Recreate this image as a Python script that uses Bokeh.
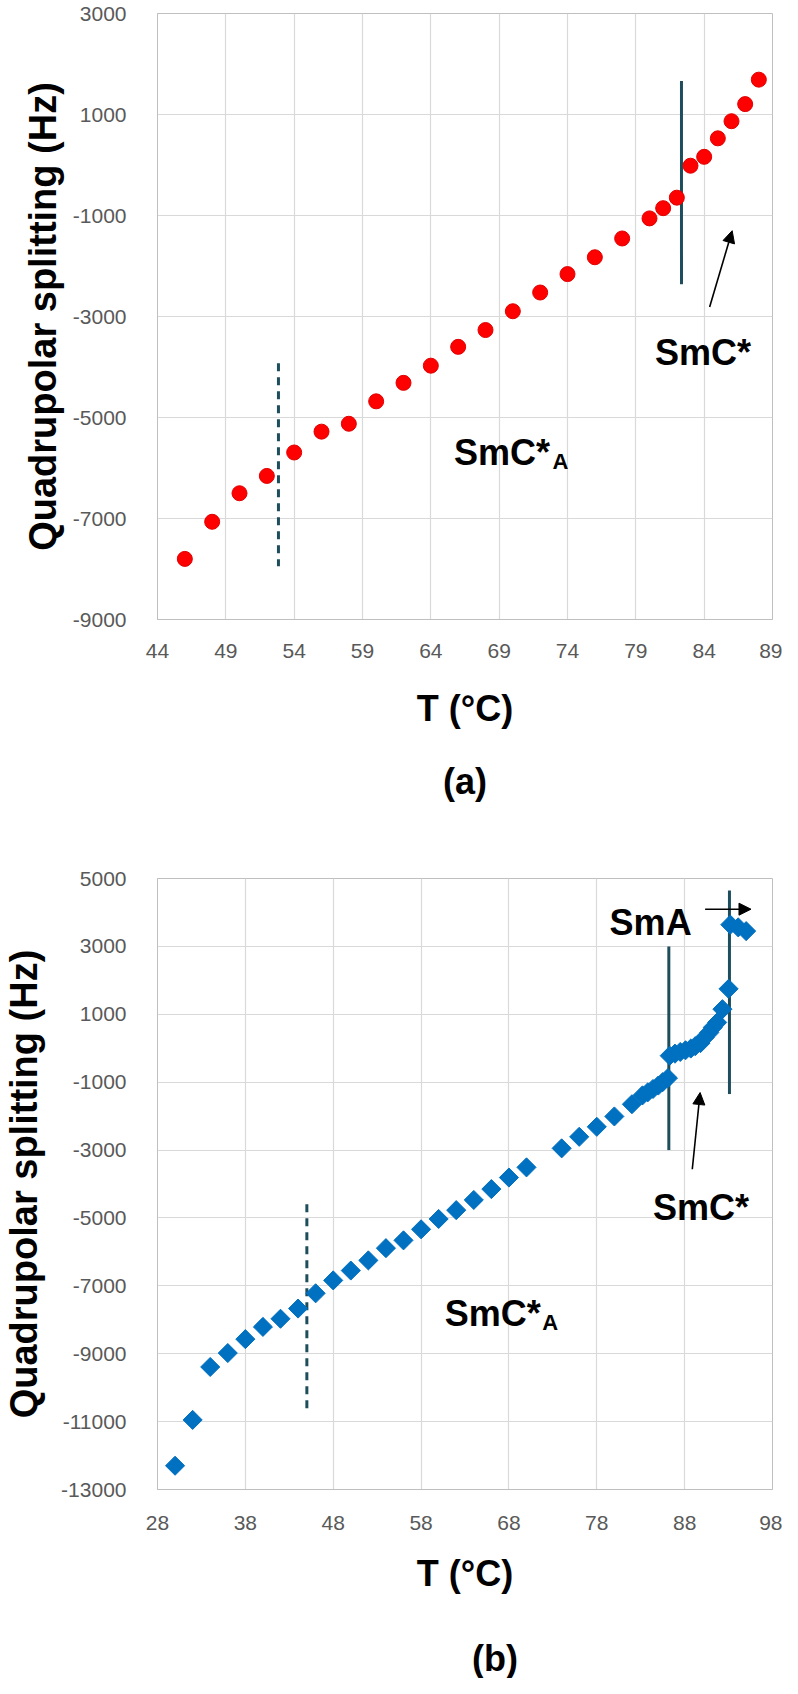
import numpy as np
from bokeh.plotting import figure
from bokeh.models import FixedTicker, Title, Arrow, NormalHead
from bokeh.layouts import column
from bokeh.core.properties import value
from bokeh.embed import file_html
from bokeh.resources import INLINE

# ---------------- data (a) ----------------
T_a = [46, 48, 50, 52, 54, 56, 58, 60, 62, 64, 66, 68, 70, 72, 74, 76, 78, 80,
       81, 82, 83, 84, 85, 86, 87, 88]
Q_a = [-7800, -7065, -6500, -6157, -5693, -5280, -5124, -4680, -4314, -3974,
       -3601, -3268, -2896, -2525, -2160, -1827, -1455, -1057,
       -855, -647, -14, 162, 528, 867, 1206, 1690]
xticks_a = [44, 49, 54, 59, 64, 69, 74, 79, 84, 89]
yticks_a = [-9000, -7000, -5000, -3000, -1000, 1000, 3000]

# ---------------- data (b) ----------------
T_b = [30, 32, 34, 36, 38, 40, 42, 44, 46, 48, 50, 52, 54, 56, 58, 60, 62, 64,
       66, 68, 70, 74, 76, 78, 80, 82,
       83.2, 83.8, 84.4, 85.0, 85.5, 86.1,
       86.3, 86.9, 87.5, 88.1, 88.7, 89.2, 89.8, 90.3, 90.8, 91.2, 91.7, 92.3,
       93.0, 93.2, 94.1, 95.0]
Q_b = [-12300, -10950, -9390, -8980, -8570, -8210, -7970, -7670, -7220, -6840,
       -6550, -6250, -5890, -5660, -5335, -5030, -4770, -4470, -4150, -3810,
       -3510, -2950, -2610, -2315, -2010, -1650,
       -1390, -1300, -1200, -1100, -1000, -880,
       -220, -160, -110, -60, -10, 60, 150, 320, 460, 610, 760, 1150,
       1750, 3640, 3560, 3450]
xticks_b = [28, 38, 48, 58, 68, 78, 88, 98]
yticks_b = [-13000, -11000, -9000, -7000, -5000, -3000, -1000, 1000, 3000, 5000]

# phase boundary lines: x, y0, y1, dashed?
lines_a = [(82.34, 1665, -2361, False), (52.85, -3928, -7948, True)]
lines_b = [(86.2, 3000, -3000, False), (93.1, 4650, -1350, False),
           (45.0, -4600, -10650, True)]

# annotations: big labels, subscripts, arrows
labels_a = [(65.7, -5700, "SmC*"), (80.4, -3717, "SmC*")]
subs_a = [(72.9, -5877, "A")]
arrows_a = [(84.4, -2813, 86.05, -1301)]

labels_b = [(60.7, -7817, "SmC*"), (84.4, -4694, "SmC*"), (79.46, 3704, "SmA")]
subs_b = [(71.8, -8082, "A")]
arrows_b = [(88.87, -3565, 89.76, -1305), (90.33, 4096, 95.55, 4096)]

FONT = "Liberation Sans"
LINE_COL = "#1e4d5c"


def make_fig(xr, yr, xt, yt, height, mb_left, mb_top, mb_bottom, ylab_standoff,
             xlab_so, xal_so):
    p = figure(width=782, height=height, x_range=xr, y_range=yr,
               output_backend="svg", toolbar_location=None,
               min_border_left=mb_left, min_border_right=10,
               min_border_top=mb_top, min_border_bottom=mb_bottom)
    p.xaxis.ticker = FixedTicker(ticks=xt)
    p.yaxis.ticker = FixedTicker(ticks=yt)
    p.xaxis.major_label_overrides = {t: str(t) for t in xt}
    p.yaxis.major_label_overrides = {t: str(t) for t in yt}
    p.xaxis.axis_label = "T (°C)"
    p.yaxis.axis_label = "Quadrupolar splitting (Hz)"
    for ax in (p.xaxis[0], p.yaxis[0]):
        ax.major_tick_line_color = None
        ax.minor_tick_line_color = None
        ax.axis_line_color = "#bfbfbf"
        ax.major_label_text_font = FONT
        ax.major_label_text_font_size = "21px"
        ax.major_label_text_color = "#595959"
        ax.axis_label_text_font = FONT
        ax.axis_label_text_font_style = "bold"
        ax.axis_label_text_color = "black"
    p.xaxis.axis_label_text_font_size = "36px"
    p.yaxis.axis_label_text_font_size = "38px"
    p.xaxis.major_label_standoff = xlab_so
    p.xaxis.axis_label_standoff = xal_so
    p.yaxis.major_label_standoff = 25
    p.yaxis.axis_label_standoff = ylab_standoff
    p.outline_line_color = "#bfbfbf"
    p.grid.grid_line_color = "#d9d9d9"
    p.grid.grid_line_width = 1.2
    p.background_fill_color = "white"
    p.border_fill_color = "white"
    return p


def decorate(p, lines, labels, subs, arrows):
    for (x, y0, y1, dashed) in lines:
        p.segment(x0=[x], y0=[y0], x1=[x], y1=[y1], line_color=LINE_COL,
                  line_width=3, line_dash="8 6" if dashed else "solid")
    p.text(x=[l[0] for l in labels], y=[l[1] for l in labels],
           text=[l[2] for l in labels], text_font=value(FONT),
           text_font_size="36px", text_font_style="bold", text_color="black",
           text_align="left", text_baseline="alphabetic")
    p.text(x=[s[0] for s in subs], y=[s[1] for s in subs],
           text=[s[2] for s in subs], text_font=value(FONT),
           text_font_size="22px", text_font_style="bold", text_color="black",
           text_align="left", text_baseline="alphabetic")
    for (xs, ys, xe, ye) in arrows:
        p.add_layout(Arrow(end=NormalHead(size=12, fill_color="black",
                                          line_color="black"),
                           x_start=xs, y_start=ys, x_end=xe, y_end=ye,
                           line_color="black", line_width=1.6))


# ---------------- figure (a) ----------------
pa = make_fig((44, 89), (-9000, 3000), xticks_a, yticks_a, height=832,
              mb_left=155, mb_top=13, mb_bottom=213, ylab_standoff=6,
              xlab_so=18, xal_so=27)
pa.add_layout(Title(text="(a)", align="center", text_font=FONT,
                    text_font_size="36px", text_font_style="bold",
                    text_color="black", standoff=54), "below")
decorate(pa, lines_a, labels_a, subs_a, arrows_a)
pa.scatter(T_a, Q_a, marker="circle", size=15, fill_color="#ff0000",
           line_color="#e00000", line_width=1)

# ---------------- figure (b) ----------------
pb = make_fig((28, 98), (-13000, 5000), xticks_b, yticks_b, height=769,
              mb_left=139, mb_top=46, mb_bottom=112, ylab_standoff=13,
              xlab_so=20, xal_so=20)
decorate(pb, lines_b, labels_b, subs_b, arrows_b)
pb.scatter(T_b, Q_b, marker="square", angle=np.pi / 4, size=13.5,
           fill_color="#0070c0", line_color="#0070c0")

# ---------------- caption strip for (b) ----------------
pt = figure(width=782, height=77, x_range=(0, 782), y_range=(0, 77),
            output_backend="svg", toolbar_location=None,
            min_border=0, outline_line_color=None)
pt.axis.visible = False
pt.grid.visible = False
pt.text(x=[429], y=[20], text=["(b)"], text_font=value(FONT),
        text_font_size="36px", text_font_style="bold", text_color="black",
        text_align="center", text_baseline="middle")

layout = column(pa, pb, pt, spacing=0)
open("out.html", "w").write(file_html(layout, INLINE))
